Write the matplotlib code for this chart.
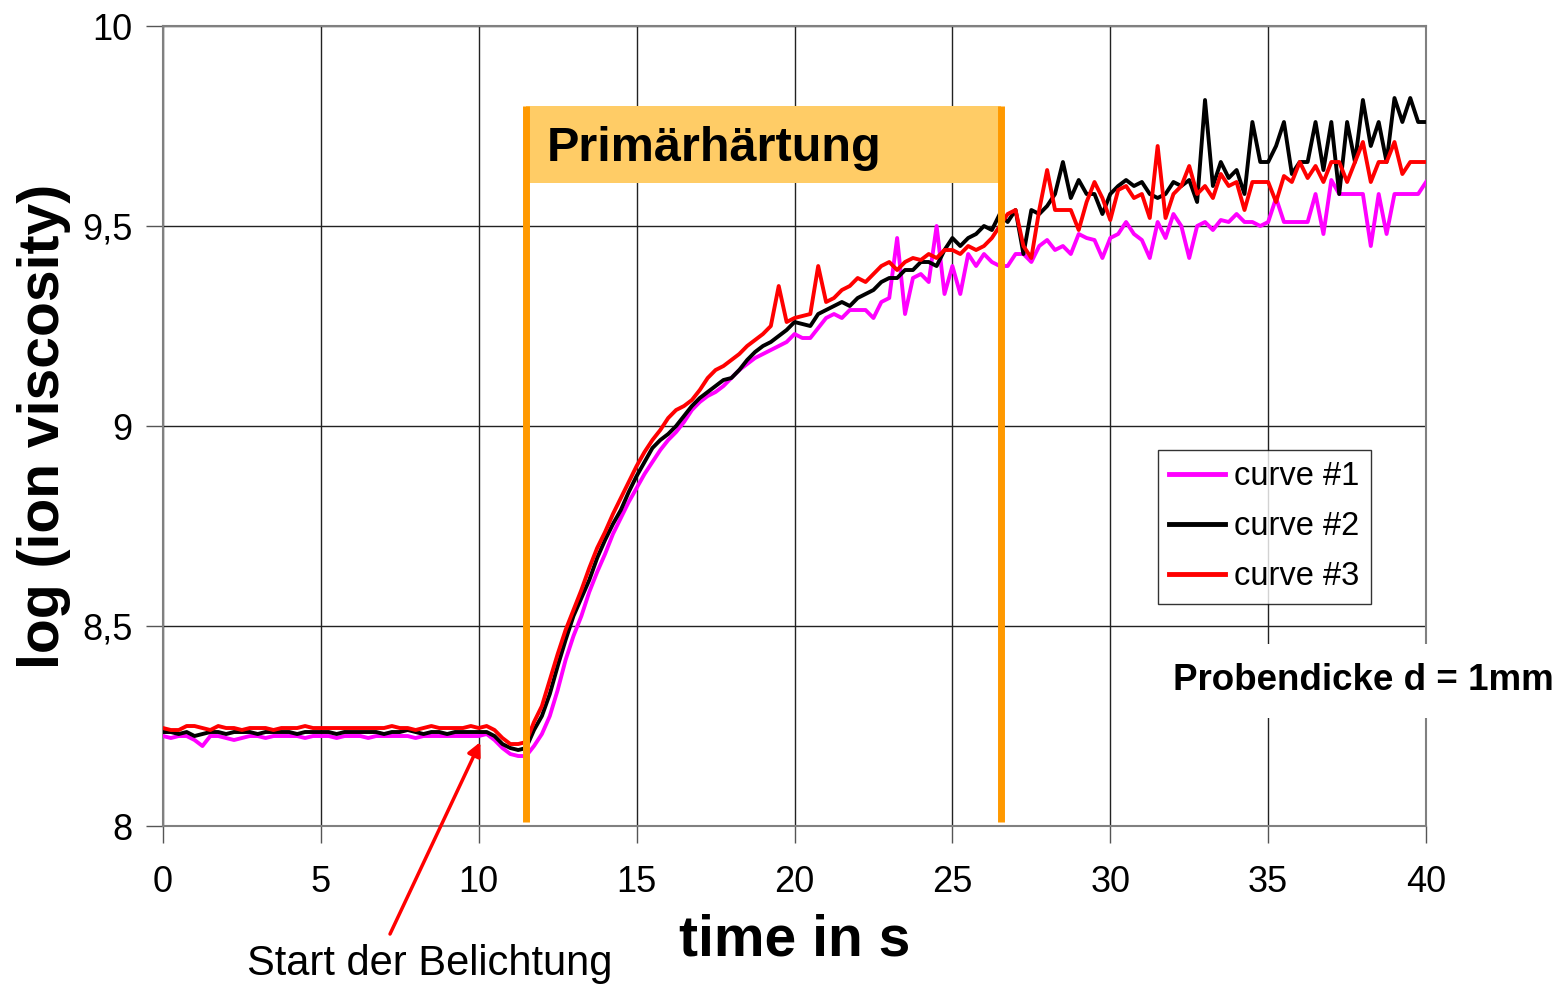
import numpy as np
import matplotlib
matplotlib.use("Agg")
import matplotlib.pyplot as plt

plt.rcParams['font.family'] = ['Liberation Sans', 'DejaVu Sans']

# sampling grid, 0.25 s
time_s = np.arange(0, 40.001, 0.25)

curve1 = [
    8.225, 8.22, 8.225, 8.225, 8.215, 8.20, 8.225, 8.225,
    8.22, 8.215, 8.22, 8.225, 8.225, 8.22, 8.225, 8.225,
    8.225, 8.225, 8.22, 8.225, 8.225, 8.225, 8.22, 8.225,
    8.225, 8.225, 8.22, 8.225, 8.225, 8.225, 8.225, 8.225,
    8.22, 8.225, 8.225, 8.225, 8.225, 8.225, 8.225, 8.225,
    8.225, 8.23, 8.215, 8.195, 8.18, 8.175, 8.175, 8.20,
    8.23, 8.275, 8.34, 8.415, 8.475, 8.525, 8.585, 8.635,
    8.68, 8.73, 8.77, 8.81, 8.845, 8.88, 8.91, 8.94,
    8.965, 8.985, 9.01, 9.04, 9.06, 9.075, 9.085, 9.10,
    9.12, 9.14, 9.155, 9.17, 9.18, 9.19, 9.20, 9.21,
    9.23, 9.22, 9.22, 9.245, 9.27, 9.28, 9.27, 9.29,
    9.29, 9.29, 9.27, 9.31, 9.32, 9.47, 9.28, 9.37,
    9.38, 9.36, 9.50, 9.33, 9.40, 9.33, 9.43, 9.40,
    9.43, 9.41, 9.40, 9.40, 9.43, 9.43, 9.41, 9.45,
    9.465, 9.44, 9.45, 9.43, 9.48, 9.47, 9.465, 9.42,
    9.47, 9.48, 9.51, 9.48, 9.465, 9.42, 9.51, 9.47,
    9.53, 9.50, 9.42, 9.50, 9.51, 9.49, 9.515, 9.51,
    9.53, 9.51, 9.51, 9.50, 9.51, 9.57, 9.51, 9.51,
    9.51, 9.51, 9.58, 9.48, 9.615, 9.58, 9.58, 9.58,
    9.58, 9.45, 9.58, 9.48, 9.58, 9.58, 9.58, 9.58,
    9.61,
]

curve2 = [
    8.235, 8.235, 8.23, 8.235, 8.225, 8.23, 8.235, 8.235,
    8.23, 8.235, 8.235, 8.235, 8.23, 8.235, 8.235, 8.235,
    8.235, 8.23, 8.235, 8.235, 8.235, 8.235, 8.23, 8.235,
    8.235, 8.235, 8.235, 8.235, 8.23, 8.235, 8.235, 8.24,
    8.235, 8.23, 8.235, 8.235, 8.23, 8.235, 8.235, 8.235,
    8.235, 8.235, 8.225, 8.205, 8.195, 8.19, 8.195, 8.24,
    8.275, 8.33, 8.40, 8.465, 8.525, 8.57, 8.615, 8.67,
    8.715, 8.755, 8.79, 8.835, 8.875, 8.91, 8.945, 8.965,
    8.98, 9.00, 9.025, 9.05, 9.07, 9.085, 9.10, 9.115,
    9.12, 9.14, 9.165, 9.185, 9.20, 9.21, 9.225, 9.24,
    9.26, 9.255, 9.25, 9.28, 9.29, 9.30, 9.31, 9.30,
    9.32, 9.33, 9.34, 9.36, 9.37, 9.37, 9.39, 9.39,
    9.41, 9.41, 9.40, 9.44, 9.47, 9.45, 9.47, 9.48,
    9.50, 9.49, 9.53, 9.51, 9.54, 9.43, 9.54, 9.53,
    9.55, 9.58, 9.66, 9.57, 9.615, 9.58, 9.58, 9.53,
    9.58, 9.60, 9.615, 9.60, 9.61, 9.58, 9.57, 9.58,
    9.61, 9.60, 9.615, 9.56, 9.815, 9.60, 9.66, 9.62,
    9.64, 9.58, 9.76, 9.66, 9.66, 9.70, 9.76, 9.63,
    9.66, 9.66, 9.76, 9.64, 9.76, 9.58, 9.76, 9.66,
    9.815, 9.70, 9.76, 9.66, 9.82, 9.76, 9.82, 9.76,
    9.76,
]

curve3 = [
    8.245, 8.24, 8.24, 8.25, 8.25, 8.245, 8.24, 8.25,
    8.245, 8.245, 8.24, 8.245, 8.245, 8.245, 8.24, 8.245,
    8.245, 8.245, 8.25, 8.245, 8.245, 8.245, 8.245, 8.245,
    8.245, 8.245, 8.245, 8.245, 8.245, 8.25, 8.245, 8.245,
    8.24, 8.245, 8.25, 8.245, 8.245, 8.245, 8.245, 8.25,
    8.245, 8.25, 8.24, 8.22, 8.205, 8.205, 8.21, 8.26,
    8.30, 8.365, 8.43, 8.49, 8.54, 8.59, 8.645, 8.695,
    8.735, 8.78, 8.82, 8.86, 8.90, 8.935, 8.965, 8.99,
    9.02, 9.04, 9.05, 9.065, 9.09, 9.12, 9.14, 9.15,
    9.165, 9.18, 9.20, 9.215, 9.23, 9.25, 9.35, 9.26,
    9.27, 9.275, 9.28, 9.40, 9.31, 9.32, 9.34, 9.35,
    9.37, 9.36, 9.38, 9.40, 9.41, 9.39, 9.41, 9.42,
    9.415, 9.43, 9.42, 9.44, 9.44, 9.43, 9.45, 9.44,
    9.45, 9.47, 9.50, 9.53, 9.54, 9.45, 9.42, 9.54,
    9.64, 9.54, 9.54, 9.54, 9.49, 9.56, 9.61, 9.57,
    9.515, 9.59, 9.60, 9.57, 9.58, 9.52, 9.70, 9.52,
    9.58, 9.60, 9.65, 9.58, 9.60, 9.57, 9.63, 9.60,
    9.61, 9.54, 9.61, 9.61, 9.61, 9.56, 9.625, 9.61,
    9.66, 9.62, 9.65, 9.61, 9.66, 9.66, 9.61, 9.66,
    9.71, 9.61, 9.66, 9.66, 9.71, 9.63, 9.66, 9.66,
    9.66,
]

labels = ['curve #1', 'curve #2', 'curve #3']
colors = ['#FF00FF', '#000000', '#FF0000']

# curing window
cure_start = 11.5
cure_end = 26.55

fig = plt.figure(figsize=(15.64, 9.85), dpi=100)
ax = fig.add_axes([0.1042, 0.1614, 0.8076, 0.8122])

for y, lab, c in zip([curve1, curve2, curve3], labels, colors):
    ax.plot(time_s, y, color=c, lw=2.8, label=lab, zorder=3)

# orange box with title
ax.fill_between([cure_start, cure_end], 9.607, 9.80, color='#FFCC66', zorder=4, lw=0)
ax.vlines([cure_start, cure_end], 8.01, 9.80, color='#FF9900', lw=5, zorder=5)
ax.text(12.15, 9.695, 'Primärhärtung', fontsize=35, fontweight='bold',
        va='center', ha='left', zorder=6)

ax.set_xlim(0, 40)
ax.set_ylim(8, 10)
ax.set_xticks(np.arange(0, 41, 5))
ax.set_yticks([8, 8.5, 9, 9.5, 10])
ax.set_yticklabels(['8', '8,5', '9', '9,5', '10'])
ax.tick_params(direction='out', length=12, width=1, labelsize=26, color='#555555')
ax.tick_params(axis='y', pad=10)
ax.tick_params(axis='x', pad=16)
ax.grid(True, color='#222222', lw=1, zorder=1)
ax.set_axisbelow(True)
for s in ax.spines.values():
    s.set_color('#808080')
    s.set_linewidth(1.5)

ax.set_xlabel('time in s', fontsize=41, fontweight='bold', labelpad=10)
ax.set_ylabel('log (ion viscosity)', fontsize=41, fontweight='bold', labelpad=8)

leg = ax.legend(loc='upper left', bbox_to_anchor=(0.7875, 0.47), fontsize=23.5,
                frameon=True, fancybox=False, handlelength=1.7, handletextpad=0.3,
                borderpad=0.35, labelspacing=0.58, borderaxespad=0)
leg.get_frame().set_edgecolor('#000000')
leg.get_frame().set_linewidth(1)
for l in leg.get_lines():
    l.set_linewidth(3.5)

fig.text(0.8715, 0.309, 'Probendicke d = 1mm', fontsize=26.5, fontweight='bold',
         ha='center', va='center',
         bbox=dict(facecolor='white', edgecolor='none', pad=14))

# arrow to start of exposure
ax.annotate('', xy=(10.05, 8.21), xytext=(7.19, 7.73), annotation_clip=False,
            arrowprops=dict(arrowstyle='-|>', color='#FF0000', lw=2.5,
                            mutation_scale=20, shrinkA=0, shrinkB=0))
ax.text(8.45, 7.655, 'Start der Belichtung', fontsize=30, ha='center', va='center',
        clip_on=False)

fig.savefig('out.png', dpi=100)
